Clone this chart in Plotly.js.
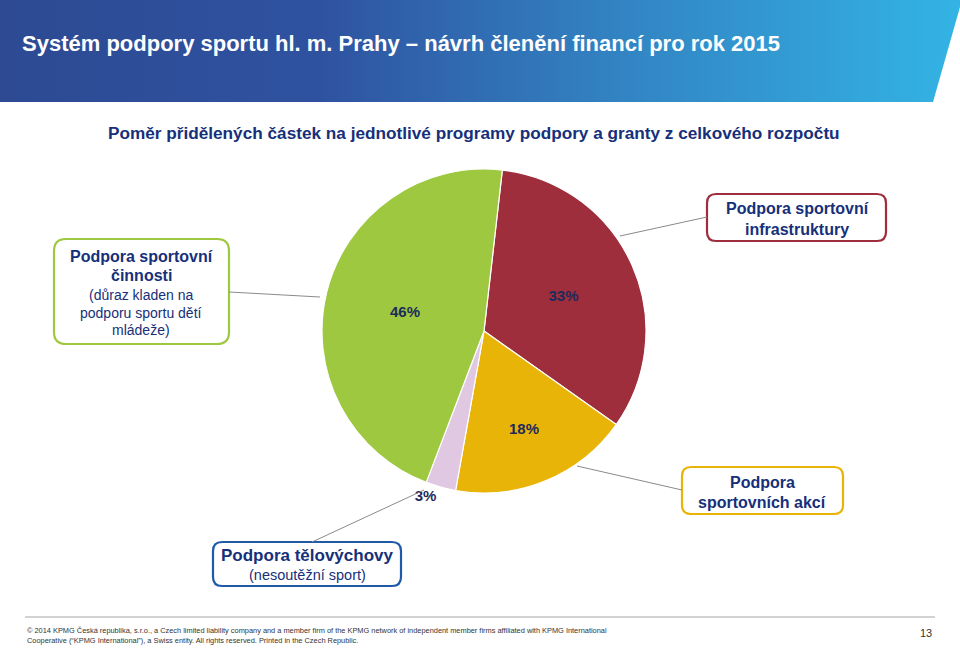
<!DOCTYPE html>
<html>
<head>
<meta charset="utf-8">
<script src="https://cdn.plot.ly/plotly-3.0.1.min.js"></script>
<style>
html,body{margin:0;padding:0;background:#fff;}
#chart{width:960px;height:648px;}
</style>
</head>
<body>
<div id="chart"></div>
<script>
// ---- data ----
var sliceLabels = ["Podpora sportovní infrastruktury", "Podpora sportovních akcí", "Podpora tělovýchovy", "Podpora sportovní činnosti"];
var sliceValues = [33, 18, 3, 46];
var sliceColors = ["#9e2e3c", "#e9b408", "#e0c8e2", "#9dc83f"];
var slicePositions = ["inside", "inside", "outside", "inside"];

var titleText = "Systém podpory sportu hl. m. Prahy – návrh členění financí pro rok 2015";
var subtitleText = "Poměr přidělených částek na jednotlivé programy podpory a granty z celkového rozpočtu";
var footerLine1 = "© 2014 KPMG Česká republika, s.r.o., a Czech limited liability company and a member firm of the KPMG network of independent member firms affiliated with KPMG International";
var footerLine2 = "Cooperative (“KPMG International”), a Swiss entity. All rights reserved. Printed in the Czech Republic.";
var pageNumber = "13";

// callout boxes: bold lines, regular lines
var boxGreenBold = ["Podpora sportovní", "činnosti"];
var boxGreenRegular = ["(důraz kladen na", "podporu sportu dětí", "mládeže)"];
var boxRedBold = ["Podpora sportovní", "infrastruktury"];
var boxYellowBold = ["Podpora", "sportovních akcí"];
var boxBlueBold = ["Podpora tělovýchovy"];
var boxBlueRegular = ["(nesoutěžní sport)"];

// ---- helpers (pixel -> paper) ----
var W = 960, H = 648;
function px(x){ return x / W; }
function py(y){ return 1 - y / H; }
function roundRect(x0, y0, x1, y1, r, color){
  var p = function(x,y){ return px(x) + "," + py(y); };
  var d = "M" + p(x0 + r, y0) +
    " L" + p(x1 - r, y0) + " Q" + p(x1, y0) + " " + p(x1, y0 + r) +
    " L" + p(x1, y1 - r) + " Q" + p(x1, y1) + " " + p(x1 - r, y1) +
    " L" + p(x0 + r, y1) + " Q" + p(x0, y1) + " " + p(x0, y1 - r) +
    " L" + p(x0, y0 + r) + " Q" + p(x0, y0) + " " + p(x0 + r, y0) + " Z";
  return {type: "path", xref: "paper", yref: "paper", path: d,
          line: {color: color, width: 2.2}, fillcolor: "rgba(255,255,255,0)"};
}
function lineShape(x0, y0, x1, y1){
  return {type: "line", xref: "paper", yref: "paper", x0: px(x0), y0: py(y0), x1: px(x1), y1: py(y1),
          line: {color: "#8a8a8a", width: 1}};
}
var navy = "#16307a";
function textLines(lines, cx, startY, step, size, bold){
  return lines.map(function(t, i){
    return {xref: "paper", yref: "paper", x: px(cx), y: py(startY + i * step),
      xanchor: "center", yanchor: "middle", showarrow: false,
      text: bold ? "<b>" + t + "</b>" : t,
      font: {family: "Liberation Sans, Arial, sans-serif", size: size, color: navy}};
  });
}

// ---- pie ----
var cx = 484, cy = 331, R = 162;
var trace = {
  type: "pie",
  labels: sliceLabels,
  values: sliceValues,
  sort: false,
  direction: "clockwise",
  rotation: 6.5,
  marker: {colors: sliceColors, line: {color: "#ffffff", width: 1.2}},
  textinfo: "percent",
  textposition: slicePositions,
  insidetextorientation: "horizontal",
  insidetextfont: {family: "Liberation Sans, Arial, sans-serif", size: 15, color: "#1d2a5c", weight: "bold"},
  outsidetextfont: {family: "Liberation Sans, Arial, sans-serif", size: 15, color: "#1d2a5c", weight: "bold"},
  hoverinfo: "skip",
  domain: {x: [px(cx - R), px(cx + R)], y: [py(cy + R), py(cy - R)]}
};

// ---- banner image (gradient) ----
var bannerSvg = "<svg xmlns='http://www.w3.org/2000/svg' width='960' height='104' viewBox='0 0 960 104' preserveAspectRatio='none'>" +
  "<defs><linearGradient id='g' x1='0' x2='1' y1='0' y2='0'>" +
  "<stop offset='0' stop-color='#2d4a93'/><stop offset='0.33' stop-color='#2f52a0'/>" +
  "<stop offset='0.62' stop-color='#3280c0'/><stop offset='1' stop-color='#33b4e4'/></linearGradient></defs>" +
  "<polygon points='0,0 962,0 933,102 0,102' fill='url(#g)'/></svg>";
var bannerSrc = "data:image/svg+xml;charset=utf-8," + encodeURIComponent(bannerSvg);

var shapes = [
  roundRect(54, 239, 229, 344, 12, "#9dc83f"),
  roundRect(707, 194, 886, 241, 9, "#9e2e3c"),
  roundRect(682, 467, 843, 514, 9, "#e9b408"),
  roundRect(213, 542, 401, 586, 9, "#1e5aa8"),
  lineShape(229, 292, 320, 297),
  lineShape(620, 236, 707, 217),
  lineShape(577, 466, 682, 490),
  lineShape(312, 542, 424, 490),
  {type: "line", xref: "paper", yref: "paper", x0: px(25), x1: px(935), y0: py(617), y1: py(617),
   line: {color: "#a6a6a6", width: 1}}
];

var annotations = []
  .concat(textLines(boxGreenBold, 141, 256, 19.5, 16, true))
  .concat(textLines(boxGreenRegular, 141, 295, 17.5, 14, false))
  .concat(textLines(boxRedBold, 797, 208, 21, 16, true))
  .concat(textLines(boxYellowBold, 762, 482, 20, 16, true))
  .concat(textLines(boxBlueBold, 307, 555, 20, 17, true))
  .concat(textLines(boxBlueRegular, 307, 575, 20, 14.5, false));

annotations.push({xref: "paper", yref: "paper", x: px(20), y: py(44), xanchor: "left", yanchor: "middle",
  showarrow: false, text: "<b>" + titleText + "</b>",
  font: {family: "Liberation Sans, Arial, sans-serif", size: 22, color: "#ffffff"}});
annotations.push({xref: "paper", yref: "paper", x: px(474), y: py(133), xanchor: "center", yanchor: "middle",
  showarrow: false, text: "<b>" + subtitleText + "</b>",
  font: {family: "Liberation Sans, Arial, sans-serif", size: 17.2, color: navy}});
annotations.push({xref: "paper", yref: "paper", x: px(25), y: py(630.5), xanchor: "left", yanchor: "middle",
  showarrow: false, text: footerLine1,
  font: {family: "Liberation Sans, Arial, sans-serif", size: 7.4, color: "#333333"}});
annotations.push({xref: "paper", yref: "paper", x: px(25), y: py(640), xanchor: "left", yanchor: "middle",
  showarrow: false, text: footerLine2,
  font: {family: "Liberation Sans, Arial, sans-serif", size: 7.4, color: "#333333"}});
annotations.push({xref: "paper", yref: "paper", x: px(934), y: py(633), xanchor: "right", yanchor: "middle",
  showarrow: false, text: pageNumber,
  font: {family: "Liberation Sans, Arial, sans-serif", size: 11, color: "#333333"}});

var layout = {
  width: W, height: H,
  margin: {l: 0, r: 0, t: 0, b: 0},
  paper_bgcolor: "#ffffff",
  showlegend: false,
  hovermode: false,
  images: [{source: bannerSrc, xref: "paper", yref: "paper", x: 0, y: 1, sizex: 1, sizey: 104 / H,
            xanchor: "left", yanchor: "top", sizing: "stretch", layer: "below"}],
  shapes: shapes,
  annotations: annotations
};

Plotly.newPlot("chart", [trace], layout, {staticPlot: true, displayModeBar: false});
</script>
</body>
</html>
